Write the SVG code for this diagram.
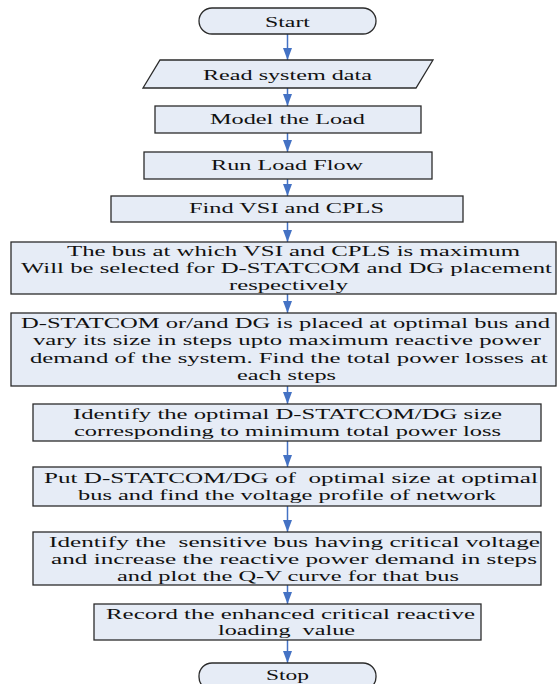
<svg xmlns="http://www.w3.org/2000/svg" width="557" height="684" viewBox="0 0 557 684">
<defs>
<style>
.box{fill:#E6ECF6;stroke:#2b2b2b;stroke-width:1.3}
.t{font-family:"Liberation Serif","Times New Roman",serif;font-size:15px;fill:#111;white-space:pre}
.c{stroke:#4472C4;stroke-width:1.5;fill:none;marker-end:url(#ah)}
</style>
<marker id="ah" markerWidth="12" markerHeight="9" refX="12" refY="4.5" orient="auto" markerUnits="userSpaceOnUse">
<path d="M0,0 L12,4.5 L0,9 Z" fill="#4472C4"/>
</marker>
</defs>
<rect width="557" height="684" fill="#fff"/>
<g id="connectors">
<line class="c" x1="287.5" y1="34" x2="287.5" y2="60"/>
<line class="c" x1="287.5" y1="88" x2="287.5" y2="106"/>
<line class="c" x1="287.5" y1="133" x2="287.5" y2="152"/>
<line class="c" x1="287.5" y1="179" x2="287.5" y2="196"/>
<line class="c" x1="287.5" y1="222" x2="287.5" y2="242"/>
<line class="c" x1="287.5" y1="294" x2="287.5" y2="313"/>
<line class="c" x1="287.5" y1="386" x2="287.5" y2="404"/>
<line class="c" x1="287.5" y1="441" x2="287.5" y2="467"/>
<line class="c" x1="287.5" y1="506" x2="287.5" y2="532"/>
<line class="c" x1="287.5" y1="585" x2="287.5" y2="604"/>
<line class="c" x1="287.5" y1="640" x2="287.5" y2="663"/>
</g>
<g id="start">
<rect class="box" x="199" y="8" width="177" height="26" rx="13" ry="13"/>
<text class="t" x="265" y="26.5" textLength="45" lengthAdjust="spacingAndGlyphs">Start</text>
</g>
<g id="read">
<polygon class="box" points="160,60 433,60 416,88 143,88"/>
<text class="t" x="203" y="80" textLength="169" lengthAdjust="spacingAndGlyphs">Read system data</text>
</g>
<g id="model">
<rect class="box" x="155" y="106" width="266" height="27"/>
<text class="t" x="210" y="124" textLength="155" lengthAdjust="spacingAndGlyphs">Model the Load</text>
</g>
<g id="loadflow">
<rect class="box" x="144" y="152" width="288" height="27"/>
<text class="t" x="211" y="170" textLength="152" lengthAdjust="spacingAndGlyphs">Run Load Flow</text>
</g>
<g id="findvsi">
<rect class="box" x="111" y="196" width="352" height="26"/>
<text class="t" x="189" y="213" textLength="195" lengthAdjust="spacingAndGlyphs">Find VSI and CPLS</text>
</g>
<g id="select">
<rect class="box" x="11" y="242" width="545" height="52"/>
<text class="t" x="67" y="256" textLength="453" lengthAdjust="spacingAndGlyphs">The bus at which VSI and CPLS is maximum</text>
<text class="t" x="21" y="273" textLength="531" lengthAdjust="spacingAndGlyphs">Will be selected for D-STATCOM and DG placement</text>
<text class="t" x="229" y="290" textLength="119" lengthAdjust="spacingAndGlyphs">respectively</text>
</g>
<g id="place">
<rect class="box" x="11" y="313" width="545" height="73"/>
<text class="t" x="21" y="328" textLength="529" lengthAdjust="spacingAndGlyphs">D-STATCOM or/and DG is placed at optimal bus and</text>
<text class="t" x="33" y="345" textLength="508" lengthAdjust="spacingAndGlyphs">vary its size in steps upto maximum reactive power</text>
<text class="t" x="30" y="363" textLength="518" lengthAdjust="spacingAndGlyphs">demand of the system. Find the total power losses at</text>
<text class="t" x="237" y="380" textLength="99" lengthAdjust="spacingAndGlyphs">each steps</text>
</g>
<g id="identify">
<rect class="box" x="33" y="404" width="508" height="37"/>
<text class="t" x="73" y="419" textLength="429" lengthAdjust="spacingAndGlyphs">Identify the optimal D-STATCOM/DG size</text>
<text class="t" x="74" y="436" textLength="427" lengthAdjust="spacingAndGlyphs">corresponding to minimum total power loss</text>
</g>
<g id="put">
<rect class="box" x="33" y="467" width="508" height="39"/>
<text class="t" x="44" y="483" textLength="494" lengthAdjust="spacingAndGlyphs">Put D-STATCOM/DG of  optimal size at optimal</text>
<text class="t" x="78" y="500" textLength="418" lengthAdjust="spacingAndGlyphs">bus and find the voltage profile of network</text>
</g>
<g id="sensitive">
<rect class="box" x="33" y="532" width="508" height="53"/>
<text class="t" x="49" y="547" textLength="491" lengthAdjust="spacingAndGlyphs">Identify the  sensitive bus having critical voltage</text>
<text class="t" x="51" y="564" textLength="486" lengthAdjust="spacingAndGlyphs">and increase the reactive power demand in steps</text>
<text class="t" x="117" y="581" textLength="342" lengthAdjust="spacingAndGlyphs">and plot the Q-V curve for that bus</text>
</g>
<g id="record">
<rect class="box" x="94" y="604" width="387" height="36"/>
<text class="t" x="106" y="619" textLength="369" lengthAdjust="spacingAndGlyphs">Record the enhanced critical reactive</text>
<text class="t" x="218" y="635" textLength="137" lengthAdjust="spacingAndGlyphs">loading  value</text>
</g>
<g id="stop">
<rect class="box" x="199" y="663" width="177" height="27" rx="13" ry="13"/>
<text class="t" x="266" y="680" textLength="43" lengthAdjust="spacingAndGlyphs">Stop</text>
</g>
</svg>
